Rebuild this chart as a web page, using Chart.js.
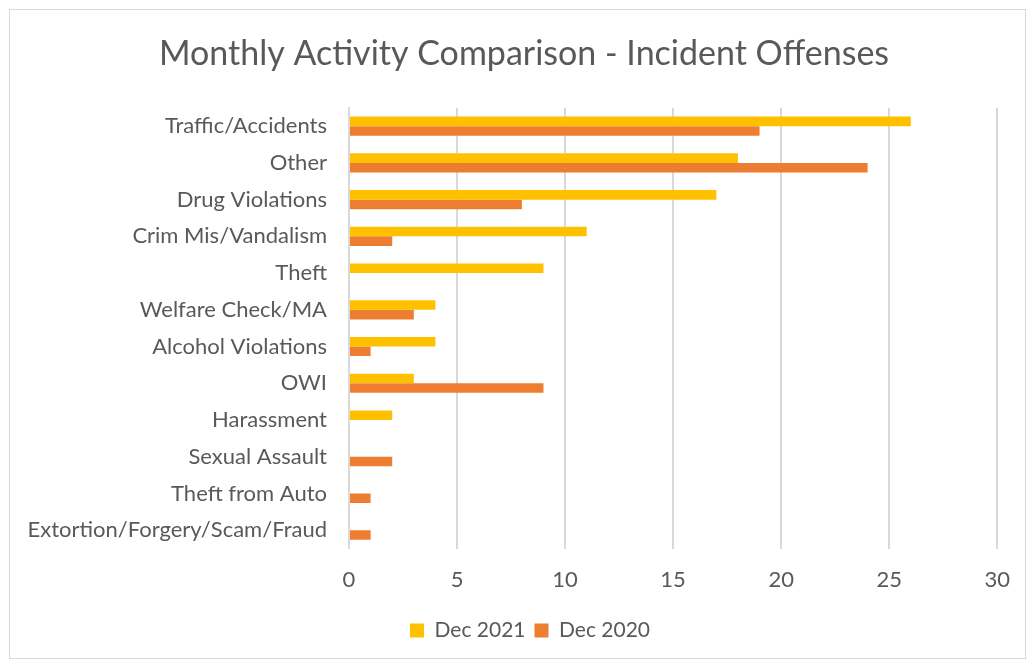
<!DOCTYPE html>
<html><head><meta charset="utf-8">
<script src="https://cdn.jsdelivr.net/npm/chart.js@4"></script>
<style>
html,body{margin:0;padding:0;background:#fff;}
#frame{position:absolute;left:9px;top:9px;width:1017px;height:650px;border:1px solid #d9d9d9;box-sizing:border-box;}
#wrap{position:absolute;left:0;top:0;width:1028px;height:662px;}
</style></head>
<body>
<div id="frame"></div>
<div id="wrap"><canvas id="c" width="1028" height="662"></canvas></div>
<script>
const categories = ["Traffic/Accidents","Other","Drug Violations","Crim Mis/Vandalism","Theft","Welfare Check/MA","Alcohol Violations","OWI","Harassment","Sexual Assault","Theft from Auto","Extortion/Forgery/Scam/Fraud"];
const dec2021 = [26,18,17,11,9,4,4,3,2,0,0,0];
const dec2020 = [19,24,8,2,0,3,1,9,0,2,1,1];
const xTicks = [0,5,10,15,20,25,30];

const FONT = "Lato, 'Open Sans', sans-serif";
const shiftBlocks = {
  id: 'shiftBlocks',
  afterLayout(chart) {
    if (chart.titleBlock) { chart.titleBlock.left += 15; chart.titleBlock.right += 15; }
    if (chart.legend) { chart.legend.left += 21; chart.legend.right += 21; }
  }
};
new Chart(document.getElementById('c'), {
  type: 'bar',
  data: {
    labels: categories,
    datasets: [
      {label: 'Dec 2021', data: dec2021, backgroundColor: '#FFC000', categoryPercentage: 0.52, barPercentage: 1.0},
      {label: 'Dec 2020', data: dec2020, backgroundColor: '#ED7D31', categoryPercentage: 0.52, barPercentage: 1.0}
    ]
  },
  plugins: [shiftBlocks],
  options: {
    indexAxis: 'y',
    responsive: false,
    animation: false,
    layout: {padding: {left: 6, right: 16, top: 0, bottom: 11}},
    scales: {
      x: {
        min: xTicks[0], max: xTicks[xTicks.length-1],
        afterBuildTicks: s => { s.ticks = xTicks.map(v => ({value: v})); },
        grid: {color: '#d9d9d9', lineWidth: 2, drawTicks: false},
        border: {display: false},
        ticks: {color: '#595959', font: {family: FONT, size: 22}, padding: 18}
      },
      y: {
        afterFit: s => { s.width = 343; },
        grid: {display: false, drawTicks: false},
        border: {display: true, color: '#d9d9d9', width: 2},
        ticks: {color: '#595959', font: {family: FONT, size: 22}, padding: 22, autoSkip: false}
      }
    },
    plugins: {
      title: {display: true, text: 'Monthly Activity Comparison - Incident Offenses', color: '#595959',
        font: {family: FONT, size: 34, weight: 'normal'}, padding: {top: 34, bottom: 33}},
      legend: {position: 'bottom', labels: {color: '#595959', font: {family: FONT, size: 21}, boxWidth: 14, boxHeight: 14, padding: 9}},
      tooltip: {enabled: false}
    }
  }
});
</script>
</body></html>
